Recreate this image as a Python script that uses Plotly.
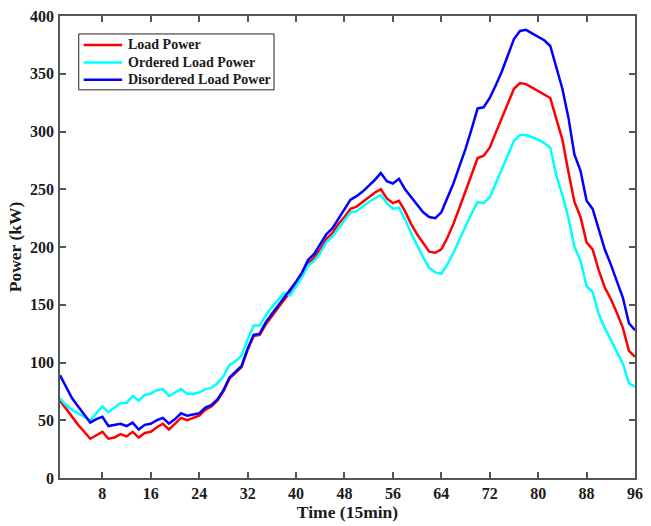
import plotly.graph_objects as go

time_idx = list(range(1, 97))

load_power = [67, 60, 52, 46, 40, 34, 37, 40, 34, 35, 38, 36, 40, 35, 39, 40,
              44, 47, 42, 47, 52, 50, 52, 54, 59, 62, 67, 75, 86, 91, 96, 111,
              123, 124, 133, 140, 147, 153, 160, 167, 175, 186, 191, 198, 207, 212, 220, 226,
              233, 235, 239, 243, 247, 250, 242, 238, 240, 231, 220, 211, 203, 196, 195, 198,
              208, 220, 234, 248, 263, 277, 279, 286, 299, 312, 325, 337, 342, 341, 338, 335,
              332, 329, 311, 293, 265, 239, 226, 204, 198, 180, 165, 155, 143, 130, 110, 105]

ordered_power = [69, 63, 59, 56, 53, 50, 56, 62, 57, 61, 65, 65, 71, 67, 72, 73,
                 76, 77, 71, 74, 77, 73, 73, 74, 77, 78, 82, 88, 98, 101, 106, 120,
                 132, 132, 141, 148, 154, 160, 158, 166, 174, 184, 188, 195, 204, 209, 216, 222,
                 230, 231, 235, 239, 242, 245, 238, 233, 234, 224, 212, 201, 191, 182, 178, 177,
                 185, 195, 207, 218, 229, 239, 238, 243, 255, 267, 279, 292, 297, 297, 295, 293,
                 290, 286, 262, 245, 225, 200, 188, 166, 161, 142, 130, 120, 110, 99, 82, 79]

disordered_power = [89, 79, 69, 62, 55, 48, 51, 53, 45, 46, 47, 45, 48, 42, 46, 47,
                    50, 52, 47, 51, 56, 54, 55, 56, 61, 63, 68, 76, 87, 92, 97, 112,
                    124, 125, 135, 142, 149, 155, 162, 170, 178, 189, 194, 202, 211, 216, 224, 232,
                    241, 244, 248, 253, 258, 264, 257, 255, 259, 250, 243, 236, 230, 226, 225, 230,
                    242, 255, 270, 285, 302, 320, 321, 329, 340, 352, 366, 380, 387, 388, 385, 382,
                    379, 374, 356, 337, 312, 280, 266, 240, 233, 215, 198, 185, 170, 156, 134, 128]

series_names = ["Load Power", "Ordered Load Power", "Disordered Load Power"]
series_colors = ["#ff0000", "#00ffff", "#0000ff"]

x_ticks = [8, 16, 24, 32, 40, 48, 56, 64, 72, 80, 88, 96]
y_ticks = [0, 50, 100, 150, 200, 250, 300, 350, 400]

FONT = "Liberation Serif"

fig = go.Figure()
for vals, name, col in zip([load_power, ordered_power, disordered_power], series_names, series_colors):
    fig.add_trace(go.Scatter(x=time_idx, y=vals, mode="lines", name=name,
                             line=dict(color=col, width=2.5), showlegend=False))

axis_common = dict(
    showgrid=False, zeroline=False, showline=True, linecolor="#555555", linewidth=1.5,
    mirror="ticks", ticks="inside", ticklen=6, tickcolor="#555555", tickwidth=1.5,
    tickfont=dict(family=FONT, size=16, color="#1a1a1a"),
)

# Manual legend (paper coordinates) to match the compact MATLAB-style legend box
W, H = 583.0, 463.0
def px(xp):
    return (xp - 60) / W
def py(yp):
    return (478 - yp) / H

shapes = [dict(type="rect", xref="paper", yref="paper",
               x0=px(79), x1=px(277), y0=py(89), y1=py(33),
               line=dict(color="#222222", width=1), fillcolor="white", layer="above")]
annotations = []
row_y = [44, 61.5, 79]
for ry, name, col in zip(row_y, series_names, series_colors):
    shapes.append(dict(type="line", xref="paper", yref="paper",
                       x0=px(84), x1=px(123), y0=py(ry), y1=py(ry),
                       line=dict(color=col, width=2.5), layer="above"))
    annotations.append(dict(xref="paper", yref="paper", x=px(127), y=py(ry),
                            xanchor="left", yanchor="middle", showarrow=False,
                            text=f"<b>{name}</b>",
                            font=dict(family=FONT, size=14, color="#1a1a1a")))

fig.update_layout(
    width=651, height=526,
    margin=dict(l=60, r=8, t=15, b=48),
    paper_bgcolor="white", plot_bgcolor="white",
    font=dict(family=FONT, color="#1a1a1a"),
    xaxis=dict(range=[1, 96], tickvals=x_ticks, ticktext=[f"<b>{v}</b>" for v in x_ticks],
               title=dict(text="<b>Time (15min)</b>", font=dict(family=FONT, size=17.5), standoff=4),
               **axis_common),
    yaxis=dict(range=[0, 400], tickvals=y_ticks, ticktext=[f"<b>{v}</b>" for v in y_ticks],
               ticklabelstandoff=1,
               title=dict(text="<b>Power (kW)</b>", font=dict(family=FONT, size=17.5), standoff=4),
               **axis_common),
    shapes=shapes,
    annotations=annotations,
    showlegend=False,
)

fig.write_html("out.html")
